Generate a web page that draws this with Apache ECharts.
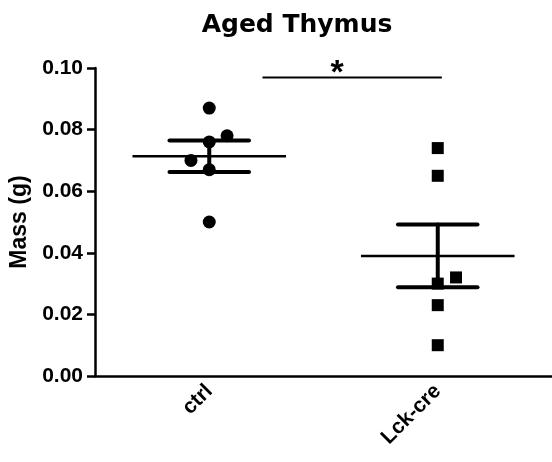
<!DOCTYPE html>
<html>
<head>
<meta charset="utf-8">
<title>Aged Thymus</title>
<script src="https://cdn.jsdelivr.net/npm/echarts@6/dist/echarts.min.js"></script>
<style>
  html, body { margin: 0; padding: 0; background: #fff; }
  #main { width: 552px; height: 462px; }
</style>
</head>
<body>
<div id="main"></div>
<script>
// 分组名称
var groups = ['ctrl', 'Lck-cre'];
// 每组的胸腺重量 (g)
var ctrlMass = [0.087, 0.078, 0.076, 0.070, 0.067, 0.050];
var lckMass = [0.074, 0.065, 0.032, 0.030, 0.023, 0.010];
// 点的水平抖动（避免重叠）
var ctrlJitter = [0, 0.078, 0, -0.08, 0, 0];
var lckJitter = [0, 0, 0.08, 0, 0, 0];
// y轴刻度
var yTicks = [0, 0.02, 0.04, 0.06, 0.08, 0.10];
// 显著性标记: [起点, 终点, 高度, 星号位置]
var sigBar = [0.733, 1.518, 0.0969, 1.06];

var black = '#000';

// 均值和标准误
function meanSem(arr) {
  var n = arr.length, s = 0, i;
  for (i = 0; i < n; i++) s += arr[i];
  var m = s / n, ss = 0;
  for (i = 0; i < n; i++) ss += (arr[i] - m) * (arr[i] - m);
  return [m, Math.sqrt(ss / (n - 1)) / Math.sqrt(n)];
}

function toPoints(arr, jitter, center) {
  var out = [];
  for (var i = 0; i < arr.length; i++) out.push([center + jitter[i], arr[i]]);
  return out;
}

var statData = [];
[ctrlMass, lckMass].forEach(function (arr, i) {
  var ms = meanSem(arr);
  statData.push([i + 0.5, ms[0], ms[0] - ms[1], ms[0] + ms[1]]);
});

var chart = echarts.init(document.getElementById('main'));

var meanHalf = 0.336; // 均值线半宽
var capHalf = 0.174;  // 误差帽半宽

chart.setOption({
  backgroundColor: '#fff',
  animation: false,
  title: {
    text: 'Aged Thymus',
    left: 292,
    top: 8,
    textAlign: 'center',
    textStyle: { fontFamily: 'DejaVu Sans', fontWeight: 'bold', fontSize: 25, color: black }
  },
  grid: { left: 93, right: 0, top: 68, bottom: 86 },
  xAxis: [{
    type: 'category',
    data: groups,
    boundaryGap: true,
    axisLine: { lineStyle: { color: black, width: 2.5 } },
    axisTick: { alignWithLabel: true, length: 9, lineStyle: { color: black, width: 2.5 } },
    axisLabel: {
      rotate: 45, margin: 12, color: black,
      fontFamily: 'Liberation Sans', fontWeight: 'bold', fontSize: 21
    }
  }, {
    type: 'value', min: 0, max: 2, show: false
  }],
  yAxis: {
    type: 'value',
    min: yTicks[0],
    max: yTicks[yTicks.length - 1],
    interval: 0.02,
    name: 'Mass (g)',
    nameLocation: 'middle',
    nameGap: 64,
    nameTextStyle: { fontFamily: 'Liberation Sans', fontWeight: 'bold', fontSize: 23, color: black },
    splitLine: { show: false },
    axisLine: { show: true, lineStyle: { color: black, width: 2.5 } },
    axisTick: { show: true, length: 8, lineStyle: { color: black, width: 2.5 } },
    axisLabel: {
      margin: 12, color: black,
      fontFamily: 'Liberation Sans', fontWeight: 'bold', fontSize: 21,
      formatter: function (v) { return v.toFixed(2); }
    }
  },
  series: [{
    type: 'scatter',
    xAxisIndex: 1,
    symbol: 'circle',
    symbolSize: 13,
    itemStyle: { color: black, opacity: 1 },
    data: toPoints(ctrlMass, ctrlJitter, 0.5)
  }, {
    type: 'scatter',
    xAxisIndex: 1,
    symbol: 'rect',
    symbolSize: 12,
    itemStyle: { color: black, opacity: 1 },
    data: toPoints(lckMass, lckJitter, 1.5)
  }, {
    // 均值 ± SEM
    type: 'custom',
    xAxisIndex: 1,
    clip: false,
    z: 5,
    encode: { x: 0, y: [1, 2, 3] },
    data: statData,
    renderItem: function (params, api) {
      var x = api.value(0), m = api.value(1), lo = api.value(2), hi = api.value(3);
      var ml = api.coord([x - meanHalf, m]), mr = api.coord([x + meanHalf, m]);
      var pl = api.coord([x, lo]), ph = api.coord([x, hi]);
      var cl1 = api.coord([x - capHalf, lo]), cl2 = api.coord([x + capHalf, lo]);
      var ch1 = api.coord([x - capHalf, hi]), ch2 = api.coord([x + capHalf, hi]);
      var thick = { stroke: black, lineWidth: 4, lineCap: 'round' };
      return {
        type: 'group',
        children: [
          { type: 'line', shape: { x1: ml[0], y1: ml[1], x2: mr[0], y2: mr[1] }, style: { stroke: black, lineWidth: 2.5 } },
          { type: 'line', shape: { x1: pl[0], y1: pl[1], x2: ph[0], y2: ph[1] }, style: thick },
          { type: 'line', shape: { x1: cl1[0], y1: cl1[1], x2: cl2[0], y2: cl2[1] }, style: thick },
          { type: 'line', shape: { x1: ch1[0], y1: ch1[1], x2: ch2[0], y2: ch2[1] }, style: thick }
        ]
      };
    }
  }, {
    // 显著性标记
    type: 'custom',
    xAxisIndex: 1,
    clip: false,
    encode: { x: [0, 1], y: 2 },
    data: [sigBar],
    renderItem: function (params, api) {
      var a = api.coord([api.value(0), api.value(2)]);
      var b = api.coord([api.value(1), api.value(2)]);
      var s = api.coord([api.value(3), api.value(2)]);
      return {
        type: 'group',
        children: [
          { type: 'line', shape: { x1: a[0], y1: a[1], x2: b[0], y2: b[1] }, style: { stroke: black, lineWidth: 2 } },
          { type: 'text', x: s[0], y: s[1] + 13, style: {
              text: '*', fill: black, align: 'center', verticalAlign: 'bottom',
              fontFamily: 'Liberation Sans', fontWeight: 'bold', fontSize: 34 } }
        ]
      };
    }
  }]
});
</script>
</body>
</html>
